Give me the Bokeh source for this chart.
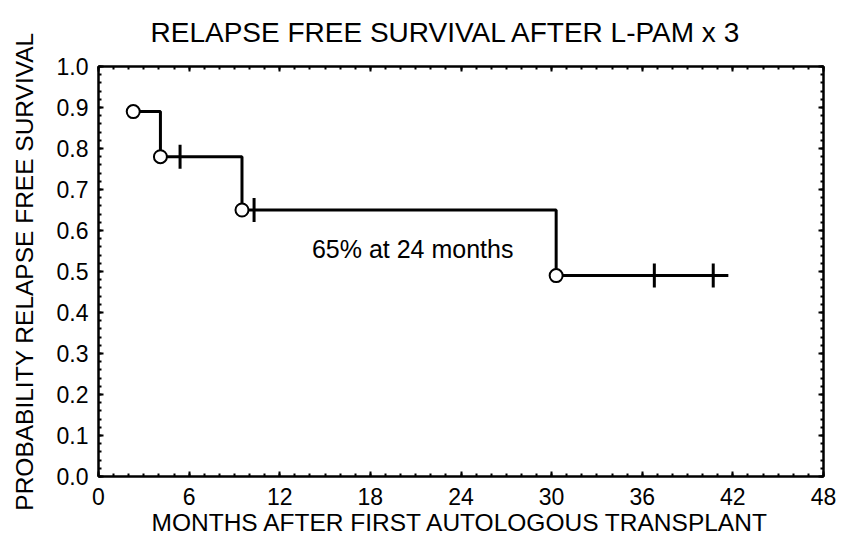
from bokeh.plotting import figure
from bokeh.models import LinearAxis, FixedTicker, Range1d, CustomLabelingPolicy
from bokeh.core.properties import value
from bokeh.embed import file_html
from bokeh.resources import INLINE
import math

# ---- data ----
title_text = "RELAPSE FREE SURVIVAL AFTER L-PAM x 3"
x_label = "MONTHS AFTER FIRST AUTOLOGOUS TRANSPLANT"
y_label = "PROBABILITY RELAPSE FREE SURVIVAL"

event_months = [2.3, 4.1, 9.5, 30.3]
event_survival = [0.89, 0.78, 0.65, 0.49]
last_followup_month = 41.7

censor_months = [5.4, 10.3, 36.8, 40.7]
censor_survival = [0.78, 0.65, 0.49, 0.49]

annotation_text = ["65% at 24 months"]
annotation_month = [20.8]
annotation_prob = [0.556]

x_ticks = [0, 6, 12, 18, 24, 30, 36, 42, 48]
x_minor = list(range(0, 49))
y_ticks = [0.0, 0.1, 0.2, 0.3, 0.4, 0.5, 0.6, 0.7, 0.8, 0.9, 1.0]
y_minor = [i / 50 for i in range(51)]
y_tick_labels = ["0.0", "0.1", "0.2", "0.3", "0.4", "0.5", "0.6", "0.7", "0.8", "0.9", "1.0"]

FONT = "Liberation Sans"

p = figure(width=844, height=538, x_range=Range1d(0, 48), y_range=Range1d(0, 1),
           output_backend="svg", toolbar_location=None,
           min_border_left=98, min_border_right=21, min_border_top=66, min_border_bottom=60)
p.background_fill_color = "white"
p.border_fill_color = "white"
p.xgrid.visible = False
p.ygrid.visible = False
p.outline_line_color = "black"
p.outline_line_width = 2

p.title.text = title_text
p.title.align = "left"
p.title.offset = 52
p.title.vertical_align = "top"
p.title.text_font = FONT
p.title.text_font_size = "28px"
p.title.text_font_style = "normal"
p.title.text_color = "black"
p.title.standoff = 26

hide_labels = CustomLabelingPolicy(code="return new Set()")

def style_axis(ax, show_labels):
    ax.axis_line_color = "black"
    ax.axis_line_width = 2
    ax.major_tick_line_color = "black"
    ax.major_tick_line_width = 2
    ax.major_tick_in = 5
    ax.major_tick_out = 0
    ax.minor_tick_line_color = "black"
    ax.minor_tick_line_width = 2
    ax.minor_tick_in = 3
    ax.minor_tick_out = 0
    if not show_labels:
        ax.major_label_policy = hide_labels
        ax.major_label_text_font_size = "1px"
        ax.major_label_standoff = 0
    else:
        ax.major_label_text_font = FONT
        ax.major_label_text_font_size = "23px"
        ax.major_label_text_color = "black"
        ax.axis_label_text_font = FONT
        ax.axis_label_text_font_style = "normal"
        ax.axis_label_text_color = "black"

xa = p.xaxis[0]
xa.ticker = FixedTicker(ticks=x_ticks, minor_ticks=x_minor)
style_axis(xa, True)
xa.axis_label = x_label
xa.axis_label_text_font_size = "24.5px"
xa.major_label_standoff = 11
xa.axis_label_standoff = 1

ya = p.yaxis[0]
ya.ticker = FixedTicker(ticks=y_ticks, minor_ticks=y_minor)
ya.major_label_overrides = {t: l for t, l in zip(y_ticks, y_tick_labels)}
style_axis(ya, True)
ya.axis_label = y_label
ya.axis_label_text_font_size = "24.5px"
ya.major_label_standoff = 10
ya.axis_label_standoff = 16

top = LinearAxis(ticker=FixedTicker(ticks=x_ticks, minor_ticks=x_minor))
style_axis(top, False)
p.add_layout(top, "above")
right = LinearAxis(ticker=FixedTicker(ticks=y_ticks, minor_ticks=y_minor))
style_axis(right, False)
p.add_layout(right, "right")

# Kaplan-Meier step curve
step_x = event_months + [last_followup_month]
step_y = event_survival + [event_survival[-1]]
p.step(step_x, step_y, mode="after", line_color="black", line_width=3)

# censor marks
p.scatter(censor_months, censor_survival, marker="dash", angle=math.pi / 2,
          size=24, line_color="black", line_width=3)

# event markers (open circles)
p.scatter(event_months, event_survival, marker="circle", size=13,
          fill_color="white", line_color="black", line_width=2)

p.text(annotation_month, annotation_prob, text=annotation_text,
       text_font=value(FONT), text_font_size="25px", text_color="black",
       text_align="center", text_baseline="middle")

open("out.html", "w").write(file_html(p, INLINE))
